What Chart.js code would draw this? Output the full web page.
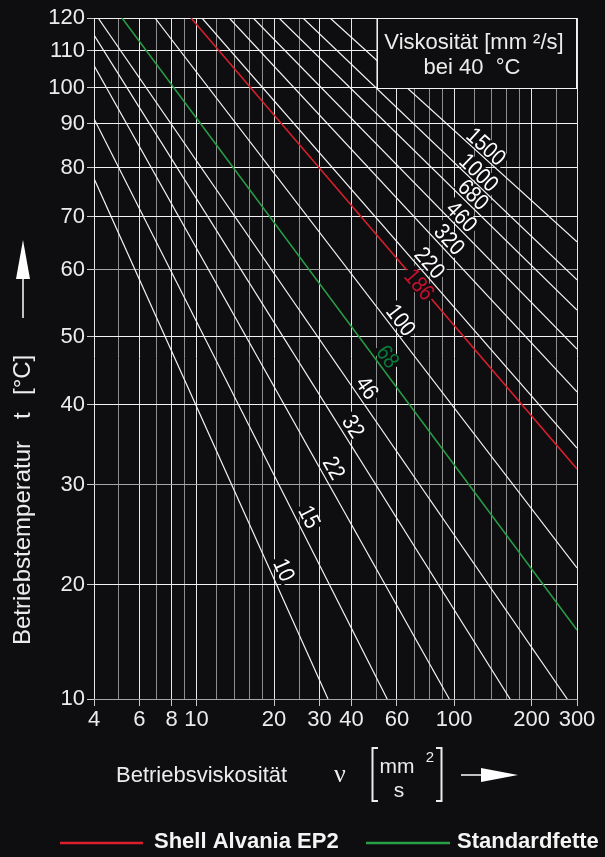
<!DOCTYPE html>
<html lang="de">
<head>
<meta charset="utf-8">
<title>Betriebsviskosität</title>
<script src="https://cdn.jsdelivr.net/npm/chart.js@4.4.1/dist/chart.umd.min.js"></script>
<style>
  html, body { margin: 0; padding: 0; background: #0e0e10; }
  canvas { display: block; }
</style>
</head>
<body>
<canvas id="chart" width="605" height="857"></canvas>
<script>
// Viscosity grades (mm²/s at 40 °C) of the reference lines
const grades = [10, 15, 22, 32, 46, 68, 100, 186, 220, 320, 460, 680, 1000, 1500];
// Point where each line enters the grid (upper left): viscosity, temperature
const startViscosity   = [4, 4, 4, 4, 4.15, 5.14, 6.9, 9.52, 10.5, 13.4, 16.6, 20.9, 25.9, 33.0];
const startTemperature = [77.8, 91.4, 106, 114.8, 120, 120, 120, 120, 120, 120, 120, 120, 120, 120];
// Point where each line leaves the grid (lower right)
const endViscosity     = [32.4, 55.0, 95.8, 165, 275, 300, 300, 300, 300, 300, 300, 300, 300, 300];
const endTemperature   = [10, 10, 10, 10, 10, 16.05, 21.7, 32, 34.6, 41.9, 48.2, 54.0, 58.5, 65.3];
// Temperature at which the grade number is written beside each line
const labelTemperature = [21.5, 26.8, 32.1, 37.3, 42.5, 47.1, 52.5, 57.8, 61.3, 65.7, 70, 74.5, 79, 84.8];

// Highlighted greases (legend order)
const productGrades = [186, 68];
const productNames  = ['Shell Alvania EP2', 'Standardfette'];

// Axis ticks
const viscosityGrid   = [4, 5, 6, 7, 8, 9, 10, 12, 14, 16, 18, 20, 25, 30, 40, 50, 60, 70, 80, 90,
                         100, 120, 140, 160, 180, 200, 250, 300];
const viscosityLabels = [4, 6, 8, 10, 20, 30, 40, 60, 100, 200, 300];
const temperatureTicks = [10, 20, 30, 40, 50, 60, 70, 80, 90, 100, 110, 120];

// ---------------------------------------------------------------------------
const BG = '#0e0e10';
const TEXT = '#ececec';
const FONT = '"Liberation Sans", Arial, sans-serif';
const productLineColors  = ['#dc1f2c', '#27a046'];
const productLabelColors = ['#c8102e', '#0b7a3a'];

// Temperature axis of the viscosity–temperature sheet: the printed scale is
// not a plain function of t, so it is interpolated between its divisions
// (fraction of the axis height for every tick value).
const temperatureAxisStops = [0, 0.1675, 0.3144, 0.4319, 0.5318, 0.6302,
                              0.7081, 0.7801, 0.8447, 0.8976, 0.9520, 1];

function tempToDecimal(t) {
  const v = temperatureTicks, s = temperatureAxisStops;
  for (let i = 1; i < v.length; i++) {
    if (t <= v[i] || i === v.length - 1) {
      const f = (t - v[i - 1]) / (v[i] - v[i - 1]);
      return s[i - 1] + f * (s[i] - s[i - 1]);
    }
  }
  return 1;
}
function decimalToTemp(d) {
  const v = temperatureTicks, s = temperatureAxisStops;
  for (let i = 1; i < s.length; i++) {
    if (d <= s[i] || i === s.length - 1) {
      const f = (d - s[i - 1]) / (s[i] - s[i - 1]);
      return v[i - 1] + f * (v[i] - v[i - 1]);
    }
  }
  return v[v.length - 1];
}

class TemperatureScale extends Chart.LinearScale {
  buildTicks() { return temperatureTicks.map(v => ({ value: v })); }
  getPixelForValue(value) { return this.getPixelForDecimal(tempToDecimal(value)); }
  getValueForPixel(pixel) { return decimalToTemp(this.getDecimalForPixel(pixel)); }
}
TemperatureScale.id = 'temperature';
TemperatureScale.defaults = Chart.LinearScale.defaults;
Chart.register(TemperatureScale);

// One two-point dataset per viscosity grade
const datasets = grades.map((g, i) => {
  const p = productGrades.indexOf(g);
  return {
    label: p >= 0 ? productNames[p] : String(g),
    grade: g,
    labelAt: labelTemperature[i],
    data: [
      { x: startViscosity[i], y: startTemperature[i] },
      { x: endViscosity[i], y: endTemperature[i] }
    ],
    showLine: true,
    borderColor: p >= 0 ? productLineColors[p] : '#f4f4f4',
    labelColor: p >= 0 ? productLabelColors[p] : '#ffffff',
    borderWidth: p >= 0 ? 1.5 : 1.2,
    pointRadius: 0,
    pointHoverRadius: 0,
    tension: 0
  };
});

// Grade numbers written along each line, with the grid knocked out behind them
const gradeLabels = {
  id: 'gradeLabels',
  afterDatasetsDraw(chart, args, opts) {
    const { ctx, scales: { x, y } } = chart;
    const items = chart.data.datasets.map((ds, i) => {
      const pts = chart.getDatasetMeta(i).data;
      const p1 = pts[0], p2 = pts[1];
      const dx = p2.x - p1.x, dy = p2.y - p1.y;
      const ly = y.getPixelForValue(ds.labelAt);
      const lx = p1.x + (ly - p1.y) / dy * dx;
      const shift = opts.onLine.includes(ds.grade) ? 0 : opts.shift;
      return { x: lx + shift, y: ly, a: Math.atan2(dy, dx), text: String(ds.grade), color: ds.labelColor };
    });
    ctx.save();
    ctx.font = opts.font;
    ctx.textAlign = 'center';
    ctx.textBaseline = 'middle';
    items.forEach(it => {
      it.w = ctx.measureText(it.text).width * opts.condense;
      const w = it.w + 5;
      ctx.save();
      ctx.translate(it.x, it.y);
      ctx.rotate(it.a);
      ctx.fillStyle = BG;
      ctx.fillRect(-w / 2, -8.5, w, 17);
      ctx.restore();
    });
    items.forEach(it => {
      ctx.save();
      ctx.translate(it.x, it.y);
      ctx.rotate(it.a);
      ctx.fillStyle = it.color;
      ctx.fillText(it.text, 0, 1, it.w);
      ctx.restore();
    });
    ctx.restore();

    // Reference box "Viskosität bei 40 °C"
    const l = Math.round(x.getPixelForValue(opts.box[0])) + 0.5;
    const r = Math.round(x.getPixelForValue(opts.box[1])) - 0.5;
    const t = Math.round(y.getPixelForValue(opts.box[3])) + 0.5;
    const b = Math.round(y.getPixelForValue(opts.box[2])) + 0.5;
    ctx.save();
    ctx.fillStyle = BG;
    ctx.fillRect(l, t, r - l, b - t);
    ctx.strokeStyle = '#f2f2f2';
    ctx.lineWidth = 1;
    ctx.strokeRect(l, t, r - l, b - t);
    ctx.fillStyle = TEXT;
    ctx.font = '22px ' + FONT;
    ctx.textAlign = 'center';
    ctx.textBaseline = 'middle';
    const cx = (l + r) / 2 - 3;
    ctx.fillText('Viskosität [mm \u00B2/s]', cx, t + 24);
    ctx.fillText('bei 40  °C', cx - 2, t + 49);
    ctx.restore();
  }
};

// Axis titles, arrows and legend
const decorations = {
  id: 'decorations',
  afterDraw(chart) {
    const ctx = chart.ctx;
    ctx.save();
    ctx.fillStyle = TEXT;
    ctx.strokeStyle = TEXT;

    // vertical title
    ctx.save();
    ctx.translate(23, 645);
    ctx.rotate(-Math.PI / 2);
    ctx.font = '24px ' + FONT;
    ctx.textAlign = 'left';
    ctx.textBaseline = 'middle';
    ctx.fillText('Betriebstemperatur', 0, 0);
    ctx.fillText('t', 226, 0);
    ctx.fillText('[°C]', 250, 0);
    ctx.restore();

    // upward arrow
    ctx.fillStyle = '#ffffff';
    ctx.strokeStyle = '#ffffff';
    ctx.lineWidth = 1.5;
    ctx.beginPath(); ctx.moveTo(23, 276); ctx.lineTo(23, 318); ctx.stroke();
    ctx.beginPath(); ctx.moveTo(23, 240); ctx.lineTo(30, 279); ctx.lineTo(16, 279); ctx.closePath(); ctx.fill();

    // horizontal title
    ctx.fillStyle = TEXT;
    ctx.strokeStyle = TEXT;
    ctx.textBaseline = 'alphabetic';
    ctx.textAlign = 'left';
    ctx.font = '22px ' + FONT;
    ctx.fillText('Betriebsviskosität', 116, 782);
    ctx.font = '26px "Liberation Serif", serif';
    ctx.textAlign = 'center';
    ctx.fillText('\u03BD', 340, 782);
    ctx.font = '21px ' + FONT;
    ctx.fillText('mm', 397, 773);
    ctx.fillText('s', 399, 797);
    ctx.font = '15px ' + FONT;
    ctx.fillText('2', 430, 762);
    ctx.lineWidth = 2;
    ctx.beginPath();
    ctx.moveTo(378, 748); ctx.lineTo(372.5, 748); ctx.lineTo(372.5, 801); ctx.lineTo(378, 801);
    ctx.moveTo(436, 748); ctx.lineTo(441.5, 748); ctx.lineTo(441.5, 801); ctx.lineTo(436, 801);
    ctx.stroke();
    // right arrow
    ctx.fillStyle = '#ffffff';
    ctx.strokeStyle = '#ffffff';
    ctx.lineWidth = 1.5;
    ctx.beginPath(); ctx.moveTo(461, 775); ctx.lineTo(484, 775); ctx.stroke();
    ctx.beginPath(); ctx.moveTo(518, 775); ctx.lineTo(481, 768); ctx.lineTo(481, 782); ctx.closePath(); ctx.fill();

    // legend
    const entries = productGrades.map(g => chart.data.datasets.find(ds => ds.grade === g));
    const slots = [{ x0: 60, x1: 143, tx: 154 }, { x0: 366, x1: 450, tx: 457 }];
    ctx.font = 'bold 22px ' + FONT;
    ctx.textAlign = 'left';
    ctx.textBaseline = 'middle';
    entries.forEach((ds, i) => {
      const s = slots[i];
      ctx.strokeStyle = ds.borderColor;
      ctx.lineWidth = 2.5;
      ctx.beginPath(); ctx.moveTo(s.x0, 843); ctx.lineTo(s.x1, 843); ctx.stroke();
      ctx.fillStyle = '#f4f4f4';
      ctx.fillText(ds.label, s.tx, 842);
    });
    ctx.restore();
  }
};

const brightV = v => viscosityLabels.includes(v);

new Chart(document.getElementById('chart'), {
  type: 'scatter',
  data: { datasets },
  options: {
    responsive: false,
    animation: false,
    devicePixelRatio: 1,
    events: [],
    layout: { padding: { left: 0, top: 18, right: 28, bottom: 118 } },
    plugins: {
      legend: { display: false },
      tooltip: { enabled: false },
      gradeLabels: {
        font: '23px ' + FONT,
        condense: 0.86,
        shift: 14,
        onLine: [186],
        box: [50, 300, 100, 120]
      }
    },
    scales: {
      x: {
        type: 'logarithmic',
        min: 4,
        max: 300,
        afterBuildTicks: s => { s.ticks = viscosityGrid.map(v => ({ value: v })); },
        afterFit: s => { s.height = 40; },
        border: { display: false },
        grid: {
          color: c => brightV(c.tick.value) ? '#e6e6e6' : '#8e8e8e',
          lineWidth: 1,
          tickLength: 7,
          tickColor: c => brightV(c.tick.value) ? '#c8c8c8' : 'rgba(0,0,0,0)'
        },
        ticks: {
          autoSkip: false,
          maxRotation: 0,
          padding: 1,
          color: TEXT,
          font: { family: FONT, size: 22 },
          callback: v => viscosityLabels.includes(v) ? String(v) : ''
        }
      },
      y: {
        type: 'temperature',
        min: 10,
        max: 120,
        afterFit: s => { s.width = 94; },
        border: { display: false },
        grid: {
          color: c => [10, 30, 60].includes(c.tick.value) ? '#a6a6a6' : '#f2f2f2',
          lineWidth: 1,
          tickLength: 7,
          tickColor: '#cfcfcf'
        },
        ticks: {
          autoSkip: false,
          padding: 2,
          color: TEXT,
          font: { family: FONT, size: 22 },
          callback: v => String(v)
        }
      }
    }
  },
  plugins: [gradeLabels, decorations]
});
</script>
</body>
</html>
